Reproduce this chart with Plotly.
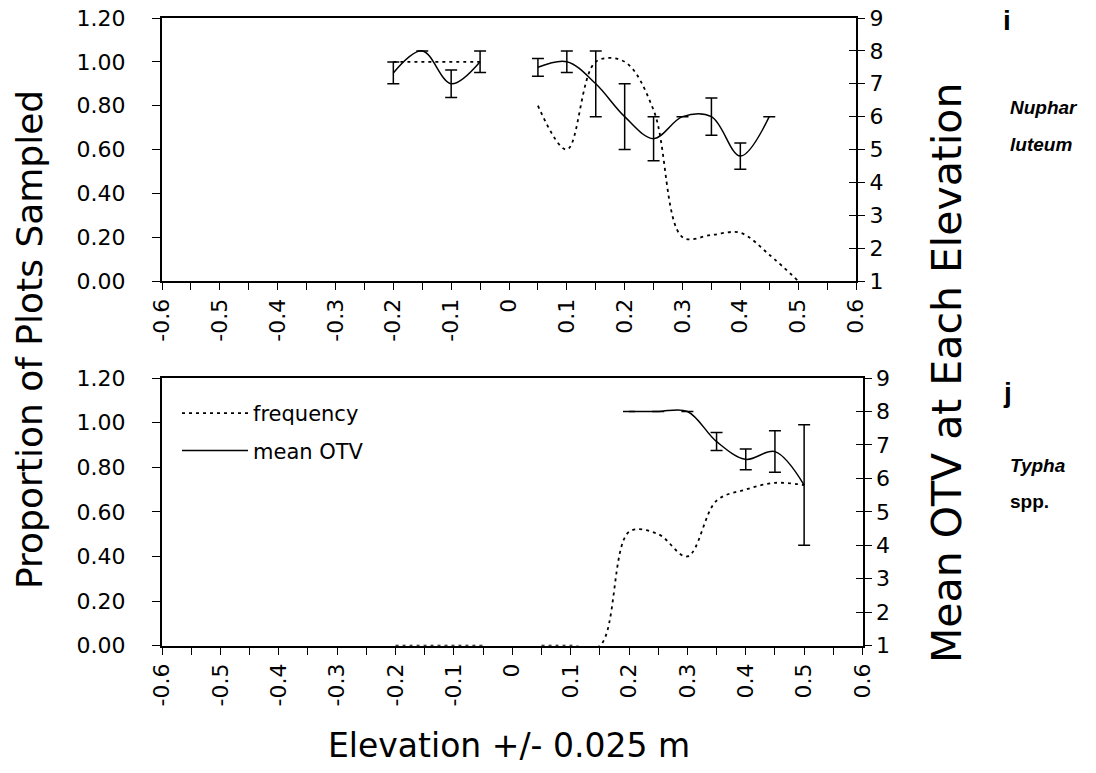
import plotly.graph_objects as go

# ---------------- data ----------------
elev = [-0.2, -0.15, -0.1, -0.05, 0.0, 0.05, 0.1, 0.15, 0.2, 0.25, 0.3, 0.35, 0.4, 0.45, 0.5]

# Panel i : Nuphar luteum
freq_i = [1.0, 1.0, 1.0, 1.0, None, 0.80, 0.60, 1.00, 1.00, 0.78, 0.20, 0.21, 0.22, 0.12, 0.0]
otv_i = [7.33, 8.0, 7.0, 7.67, None, 7.5, 7.67, 7.0, 6.0, 5.33, 6.0, 6.0, 4.8, 6.0, None]
err_i = [0.33, 0.0, 0.42, 0.33, None, 0.27, 0.33, 1.0, 1.0, 0.67, 0.0, 0.57, 0.4, 0.0, None]

# Panel j : Typha spp.
freq_j = [0.0, 0.0, 0.0, 0.0, None, 0.0, 0.0, 0.0, 0.51, 0.50, 0.40, 0.65, 0.70, 0.73, 0.72]
otv_j = [None, None, None, None, None, None, None, None, 8.0, 8.0, 8.0, 7.1, 6.57, 6.8, 5.8]
err_j = [None, None, None, None, None, None, None, None, 0.0, 0.0, 0.0, 0.27, 0.31, 0.62, 1.8]

x_tickvals = [round(-0.6 + 0.05 * k, 2) for k in range(25)]
x_ticklabels = ["-0.6", "", "-0.5", "", "-0.4", "", "-0.3", "", "-0.2", "", "-0.1", "",
                "0", "", "0.1", "", "0.2", "", "0.3", "", "0.4", "", "0.5", "", "0.6"]

left_vals = [0, 0.2, 0.4, 0.6, 0.8, 1.0, 1.2]
right_vals = [1, 2, 3, 4, 5, 6, 7, 8, 9]

# ---------------- style ----------------
FONT = "DejaVu Sans, sans-serif"
LFONT = "Liberation Sans, Arial, sans-serif"
TICK_SIZE = 22
W, H = 1096, 773


def px(x):
    return x / W


def py(y):
    return 1 - y / H


fig = go.Figure()


def add_panel(freq, otv, err, xa, ya, ya2, legend):
    fig.add_trace(go.Scatter(
        x=elev, y=freq, xaxis=xa, yaxis=ya, mode="lines", name="frequency",
        legendgroup="f",
        line=dict(color="black", width=1.8, dash="3px,4px", shape="spline", smoothing=1.0),
        connectgaps=False, showlegend=legend, hoverinfo="skip"))
    fig.add_trace(go.Scatter(
        x=elev, y=otv, xaxis=xa, yaxis=ya2, mode="lines", name="mean OTV",
        legendgroup="m",
        line=dict(color="black", width=1.5, shape="spline", smoothing=1.0),
        connectgaps=False, showlegend=legend, hoverinfo="skip"))
    fig.add_trace(go.Scatter(
        x=elev, y=otv, xaxis=xa, yaxis=ya2, mode="markers",
        marker=dict(size=0.1, color="rgba(0,0,0,0)"),
        error_y=dict(type="data", array=err, visible=True, color="black",
                     thickness=1.5, width=6),
        showlegend=False, hoverinfo="skip"))


add_panel(freq_i, otv_i, err_i, "x", "y", "y2", False)
add_panel(freq_j, otv_j, err_j, "x2", "y3", "y4", True)

top_dom = [py(281), py(18)]
bot_dom = [py(645.7), py(378)]

xcommon = dict(range=[-0.6, 0.6], tickmode="array", tickvals=x_tickvals, ticktext=x_ticklabels,
               tickangle=-90, ticks="outside", ticklen=7, tickwidth=1, tickcolor="black",
               showline=True, linecolor="black", linewidth=2, mirror=True, showgrid=False,
               zeroline=False, automargin=False, fixedrange=True,
               tickfont=dict(family=FONT, size=TICK_SIZE, color="black"))
ylcommon = dict(range=[0, 1.2], tickmode="array", tickvals=left_vals, tickformat=".2f",
                ticks="outside", ticklen=8, tickwidth=1, tickcolor="black",
                ticklabelstandoff=22, ticklabeloverflow="allow", fixedrange=True,
                showline=True, linecolor="black", linewidth=2, showgrid=False, zeroline=False,
                automargin=False,
                tickfont=dict(family=FONT, size=TICK_SIZE, color="black"))
yrcommon = dict(range=[1, 9], tickmode="array", tickvals=right_vals, side="right",
                ticks="outside", ticklen=7, tickwidth=1, tickcolor="black",
                ticklabeloverflow="allow", fixedrange=True,
                showline=True, linecolor="black", linewidth=2, showgrid=False, zeroline=False,
                automargin=False,
                tickfont=dict(family=FONT, size=TICK_SIZE, color="black"))
yrin = dict(range=[1, 9], tickmode="array", tickvals=right_vals, side="right",
            ticks="inside", ticklen=7, tickwidth=1, tickcolor="black", showticklabels=False,
            showline=False, showgrid=False, zeroline=False, automargin=False, fixedrange=True)

fig.update_layout(
    width=W, height=H, autosize=False,
    margin=dict(l=0, r=0, t=0, b=0, pad=0, autoexpand=False),
    paper_bgcolor="white", plot_bgcolor="white",
    font=dict(family=FONT, color="black"),
    hovermode=False,
    xaxis=dict(domain=[px(162), px(856)], anchor="y", **xcommon),
    yaxis=dict(domain=top_dom, anchor="x", **ylcommon),
    yaxis2=dict(anchor="x", overlaying="y", **yrcommon),
    yaxis5=dict(anchor="x", overlaying="y", **yrin),
    xaxis2=dict(domain=[px(162), px(862.5)], anchor="y3", **xcommon),
    yaxis3=dict(domain=bot_dom, anchor="x2", **ylcommon),
    yaxis4=dict(anchor="x2", overlaying="y3", **yrcommon),
    yaxis6=dict(anchor="x2", overlaying="y3", **yrin),
    legend=dict(x=px(177), y=py(393), xanchor="left", yanchor="top",
                bgcolor="rgba(0,0,0,0)", borderwidth=0, itemwidth=66,
                traceorder="grouped", tracegroupgap=7,
                font=dict(family=FONT, size=21, color="black")),
    showlegend=True,
)

# dummy traces so overlay tick axes render
fig.add_trace(go.Scatter(x=[None], y=[None], xaxis="x", yaxis="y5", showlegend=False))
fig.add_trace(go.Scatter(x=[None], y=[None], xaxis="x2", yaxis="y6", showlegend=False))

ann = [
    dict(text="Proportion of Plots Sampled", x=px(29), y=py(340), textangle=-90,
         font=dict(family=FONT, size=36)),
    dict(text="Mean OTV at Each Elevation", x=px(947), y=py(373), textangle=-90,
         font=dict(family=FONT, size=41)),
    dict(text="Elevation +/- 0.025 m", x=px(509), y=py(745), font=dict(family=FONT, size=33)),
    dict(text="<b>i</b>", x=px(1001), y=py(20), xanchor="left", font=dict(family=LFONT, size=28)),
    dict(text="<b><i>Nuphar</i></b>", x=px(1008), y=py(107), xanchor="left",
         font=dict(family=LFONT, size=19)),
    dict(text="<b><i>luteum</i></b>", x=px(1008), y=py(144), xanchor="left",
         font=dict(family=LFONT, size=19)),
    dict(text="<b>j</b>", x=px(1001), y=py(392), xanchor="left", font=dict(family=LFONT, size=28)),
    dict(text="<b><i>Typha</i></b>", x=px(1008), y=py(465), xanchor="left",
         font=dict(family=LFONT, size=19)),
    dict(text="<b>spp.</b>", x=px(1008), y=py(501), xanchor="left",
         font=dict(family=LFONT, size=19)),
]
for a in ann:
    a.update(xref="paper", yref="paper", showarrow=False)
    a.setdefault("xanchor", "center")
    a["yanchor"] = "middle"
    a["font"] = dict(color="black", **a["font"])
    fig.add_annotation(**a)

# remove the browser's default 8px page margin so the figure fills the window exactly
fig.write_html("out.html", config={"displayModeBar": False, "staticPlot": True},
               post_script="document.body.style.margin='0';")
